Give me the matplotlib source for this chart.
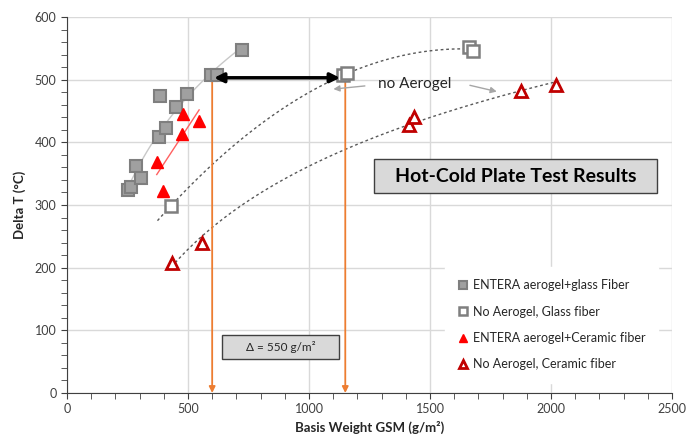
import numpy as np
import matplotlib
matplotlib.use("Agg")
import matplotlib.pyplot as plt
from matplotlib.patches import Rectangle

plt.rcParams['font.family'] = ['Lato', 'DejaVu Sans']

# --- data ---
glass_aero_x = [254, 265, 284, 306, 382, 384, 409, 450, 497, 596, 621, 722]
glass_aero_y = [324, 329, 362, 343, 408, 474, 423, 457, 477, 507, 507, 547]

glass_no_x = [428, 1142, 1158, 1662, 1677]
glass_no_y = [298, 507, 510, 552, 546]

ceram_aero_x = [371, 395, 474, 478, 546]
ceram_aero_y = [368, 323, 414, 445, 434]

ceram_no_x = [432, 556, 1414, 1435, 1875, 2019]
ceram_no_y = [208, 239, 428, 441, 482, 491]

labels = ["ENTERA aerogel+glass Fiber", "No Aerogel, Glass fiber",
          "ENTERA aerogel+Ceramic fiber", "No Aerogel, Ceramic fiber"]

gap_left, gap_right = 600, 1150
gap_text = "Δ = 550 g/m²"
title_text = "Hot-Cold Plate Test Results"

fig = plt.figure(figsize=(6.89, 4.44), dpi=100)
ax = fig.add_axes([0.0972, 0.1149, 0.8781, 0.8468])

# --- trend lines (fitted to the data like excel does) ---
gx = np.array(glass_aero_x, float)
a, b = np.polyfit(np.log(gx), glass_aero_y, 1)
tx = np.linspace(gx.min(), gx.max(), 100)
ax.plot(tx, a * np.log(tx) + b, color='#c8c8c8', lw=1, zorder=2)

cx = np.array(ceram_aero_x, float)
m, c = np.polyfit(cx, ceram_aero_y, 1)
tx = np.array([cx.min(), cx.max()])
ax.plot(tx, m * tx + c, color='#ff6060', lw=1, zorder=2)

p = np.polyfit(glass_no_x, glass_no_y, 2)
tx = np.linspace(374, 1682, 100)
ax.plot(tx, np.polyval(p, tx), color='#595959', lw=1, ls=(0, (2, 2)), zorder=2)

nx = np.array(ceram_no_x, float)
a2, b2 = np.polyfit(np.log(nx), ceram_no_y, 1)
tx = np.linspace(nx.min(), nx.max(), 100)
ax.plot(tx, a2 * np.log(tx) + b2, color='#595959', lw=1, ls=(0, (2, 2)), zorder=2)

# --- markers ---
ax.plot(glass_aero_x, glass_aero_y, 's', ms=8.5, mfc='#a0a0a0', mec='#7f7f7f', mew=1.5,
        ls='none', label=labels[0], zorder=4)
ax.plot(glass_no_x, glass_no_y, 's', ms=8, mfc='white', mec='#7f7f7f', mew=1.8,
        ls='none', label=labels[1], zorder=4)
ax.plot(ceram_aero_x, ceram_aero_y, '^', ms=8.5, mfc='#ff0000', mec='#ff0000', mew=1,
        ls='none', label=labels[2], zorder=4)
ax.plot(ceram_no_x, ceram_no_y, '^', ms=8.5, mfc='white', mec='#c00000', mew=2,
        ls='none', label=labels[3], zorder=4)

# --- arrows and notes ---
ax.annotate('', xy=(608, 503), xytext=(1128, 503),
            arrowprops=dict(arrowstyle='<|-|>', color='black', lw=2.5,
                            mutation_scale=14, shrinkA=0, shrinkB=0), zorder=5)
for gx_ in (gap_left, gap_right):
    ax.annotate('', xy=(gx_, 0), xytext=(gx_, 502),
                arrowprops=dict(arrowstyle='-|>', color='#ed7d31', lw=1.3,
                                mutation_scale=9, shrinkA=0, shrinkB=0), zorder=3)

ax.text(1438, 493, "no Aerogel", fontsize=11, ha='center', va='center', color='#262626')
ax.annotate('', xy=(1101, 485), xytext=(1231, 490),
            arrowprops=dict(arrowstyle='-|>', color='#a6a6a6', lw=1,
                            mutation_scale=9, shrinkA=0, shrinkB=0))
ax.annotate('', xy=(1776, 481), xytext=(1665, 491),
            arrowprops=dict(arrowstyle='-|>', color='#a6a6a6', lw=1,
                            mutation_scale=9, shrinkA=0, shrinkB=0))

ax.add_patch(Rectangle((1269, 319), 1170, 54, facecolor='#d9d9d9', edgecolor='#404040',
                       lw=1, zorder=3))
ax.text(1853, 346, title_text, fontsize=14, fontweight='bold', ha='center', va='center',
        color='black', zorder=4)

ax.add_patch(Rectangle((639, 54), 486, 38.5, facecolor='#d9d9d9', edgecolor='#404040',
                       lw=1, zorder=3))
ax.text(882, 73, gap_text, fontsize=8.5, ha='center', va='center', color='#262626', zorder=4)

# --- axes ---
ax.set_xlim(0, 2500)
ax.set_ylim(0, 600)
ax.set_xticks(np.arange(0, 2501, 500))
ax.set_yticks(np.arange(0, 601, 100))
ax.set_xticks(np.arange(0, 2501, 100), minor=True)
ax.set_yticks(np.arange(0, 601, 20), minor=True)
ax.grid(True, which='major', color='#d9d9d9', lw=1)
ax.set_axisbelow(True)
for s in ('top', 'right'):
    ax.spines[s].set_visible(False)
for s in ('left', 'bottom'):
    ax.spines[s].set_color('#404040')
ax.tick_params(which='major', direction='out', length=4, color='#404040',
               labelsize=9, labelcolor='#404040')
ax.tick_params(which='minor', direction='out', length=4, color='#404040')
ax.set_xlabel("Basis Weight GSM (g/m²)", fontsize=9.5, fontweight='bold', color='#262626',
              labelpad=4)
ax.set_ylabel("Delta T (°C)", fontsize=9.5, fontweight='bold', color='#262626', labelpad=6)

leg = ax.legend(loc='center', bbox_to_anchor=(0.801, 0.181), frameon=True, fancybox=False,
                edgecolor='white', framealpha=1, fontsize=9, labelspacing=1.15,
                markerscale=0.7, handlelength=0.8, handletextpad=0.4, borderpad=1.0)
for t in leg.get_texts():
    t.set_color('#262626')

fig.savefig("out.png", dpi=100)
